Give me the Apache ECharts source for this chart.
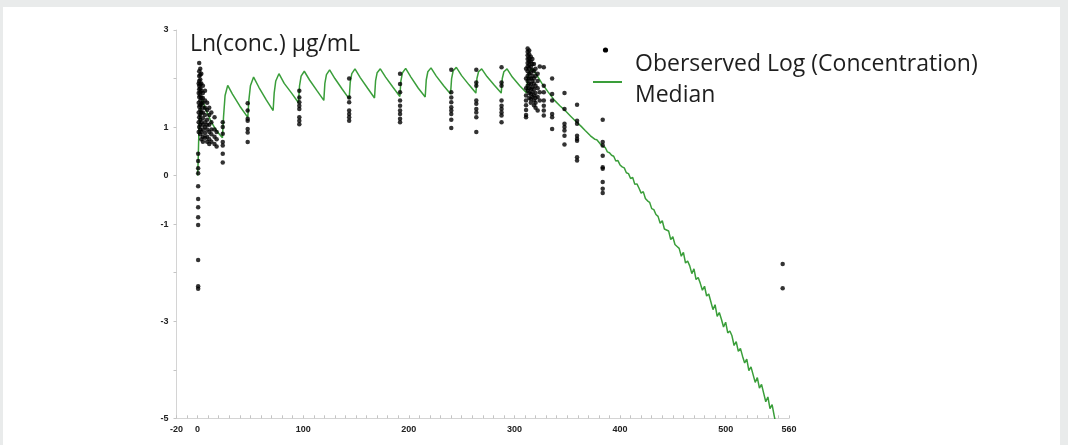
<!DOCTYPE html>
<html>
<head>
<meta charset="utf-8">
<script src="https://cdn.jsdelivr.net/npm/echarts@6/dist/echarts.min.js"></script>
<style>
  html, body { margin: 0; padding: 0; background: #fff; }
  #main { position: absolute; left: 0; top: 0; width: 1068px; height: 445px; }
  #frame {
    position: absolute; left: 0; top: 0; width: 1068px; height: 445px;
    box-sizing: border-box; pointer-events: none;
    border-top: 7px solid #e9ebeb; border-left: 3px solid #e9ebeb; border-right: 8px solid #e9ebeb;
  }
</style>
</head>
<body>
<div id="main"></div>
<div id="frame"></div>
<script>
// observed log concentrations, [time, ln(conc)]
const observed = [
  // first dose, dense sampling
  [0.5, 0.45], [0.5, 0.3], [0.5, 0.15], [0.5, 0.05], [0.5, -0.22], [0.5, -0.48], [0.5, -0.65],
  [0.5, -0.86], [0.5, -1.02], [0.5, -1.74], [0.5, -2.28], [0.5, -2.33],
  [1, 0.9], [1, 1.1], [1, 1.3], [1, 1.5], [1, 1.7], [1, 1.9],
  [1.5, 2.32], [1.5, 2.15], [1.5, 2.05], [1.5, 1.95], [1.5, 1.85], [1.5, 1.78], [1.5, 1.62], [1.5, 1.42], [1.5, 1.2], [1.5, 1.0],
  [2.5, 2.2], [2.5, 2.08], [2.5, 1.98], [2.5, 1.88], [2.5, 1.8], [2.5, 1.72], [2.5, 1.65], [2.5, 1.55],
  [2.5, 1.45], [2.5, 1.35], [2.5, 1.25], [2.5, 1.15], [2.5, 1.05], [2.5, 0.95], [2.5, 0.85],
  [3.5, 2.1], [3.5, 1.9], [3.5, 1.75], [3.5, 1.6], [3.5, 1.48], [3.5, 1.3], [3.5, 1.1], [3.5, 0.9], [3.5, 0.75],
  [5, 1.85], [5, 1.7], [5, 1.6], [5, 1.5], [5, 1.4], [5, 1.3], [5, 1.18], [5, 1.05], [5, 0.95], [5, 0.8], [5, 0.7],
  [7, 1.75], [7, 1.55], [7, 1.4], [7, 1.25], [7, 1.1], [7, 1.0], [7, 0.88], [7, 0.78],
  [9, 1.5], [9, 1.35], [9, 1.15], [9, 1.05], [9, 0.95], [9, 0.8], [9, 0.7],
  [11, 1.4], [11, 1.25], [11, 1.05], [11, 0.9], [11, 0.75], [11, 0.65],
  [13, 1.3], [13, 1.1], [13, 0.95], [13, 0.85], [13, 0.7],
  [16, 1.2], [16, 0.95], [16, 0.8], [16, 0.65],
  [18, 0.9], [18, 0.75], [18, 0.6],
  // troughs
  [23.8, 1.10], [23.8, 1.0], [23.8, 0.86], [23.8, 0.69], [23.8, 0.62], [23.8, 0.45], [23.8, 0.27],
  [47.4, 1.49], [47.4, 1.34], [47.4, 1.17], [47.4, 1.13], [47.4, 0.96], [47.4, 0.89], [47.4, 0.69],
  [96.3, 1.75], [96.3, 1.61], [96.3, 1.51], [96.3, 1.44], [96.3, 1.37], [96.3, 1.2], [96.3, 1.13], [96.3, 1.06],
  [143.5, 2.0], [143.5, 1.61], [143.5, 1.51], [143.5, 1.34], [143.5, 1.27], [143.5, 1.2], [143.5, 1.13],
  [191.7, 2.1], [191.7, 1.89], [191.7, 1.72], [191.7, 1.55], [191.7, 1.44], [191.7, 1.34], [191.7, 1.27], [191.7, 1.17], [191.7, 1.1],
  [240.2, 2.18], [240.2, 1.72], [240.2, 1.61], [240.2, 1.51], [240.2, 1.41], [240.2, 1.34], [240.2, 1.27], [240.2, 1.15], [240.2, 0.98],
  [263.9, 2.18], [263.9, 1.92], [263.9, 1.85], [263.9, 1.55], [263.9, 1.48], [263.9, 1.37], [263.9, 1.3], [263.9, 1.2], [263.9, 0.9],
  [287.8, 2.23], [287.8, 1.92], [287.8, 1.85], [287.8, 1.55], [287.8, 1.44], [287.8, 1.37], [287.8, 1.3], [287.8, 1.24], [287.8, 1.1],
  // last dose, dense sampling
  [311, 2.2], [311, 2.0], [311, 1.8], [311, 1.65], [311, 1.55], [311, 1.45], [311, 1.35], [311, 1.25], [311, 1.2],
  [312.5, 2.62], [312.5, 2.55], [312.5, 2.48], [312.5, 2.4], [312.5, 2.32], [312.5, 2.25], [312.5, 2.15],
  [312.5, 2.05], [312.5, 1.95], [312.5, 1.85], [312.5, 1.75],
  [314, 2.58], [314, 2.5], [314, 2.42], [314, 2.35], [314, 2.28], [314, 2.2], [314, 2.1], [314, 2.0],
  [314, 1.9], [314, 1.8], [314, 1.7], [314, 1.6],
  [315.5, 2.45], [315.5, 2.35], [315.5, 2.25], [315.5, 2.12], [315.5, 2.0], [315.5, 1.88], [315.5, 1.78],
  [315.5, 1.68], [315.5, 1.58], [315.5, 1.5],
  [317, 2.4], [317, 2.3], [317, 2.18], [317, 2.05], [317, 1.95], [317, 1.82], [317, 1.72], [317, 1.62],
  [318.5, 2.3], [318.5, 2.15], [318.5, 2.0], [318.5, 1.9], [318.5, 1.78], [318.5, 1.65], [318.5, 1.55], [318.5, 1.45],
  [320, 2.2], [320, 2.05], [320, 1.85], [320, 1.7], [320, 1.6], [320, 1.5], [320, 1.4],
  [322, 2.1], [322, 1.95], [322, 1.8], [322, 1.62], [322, 1.34],
  [324, 2.25], [324, 1.72], [324, 1.55],
  [327.8, 2.23], [327.8, 1.85], [327.8, 1.72], [327.8, 1.55], [327.8, 1.44], [327.8, 1.34], [327.8, 1.24],
  [335.7, 2.0], [335.7, 1.68], [335.7, 1.55], [335.7, 1.27], [335.7, 1.2], [335.7, 0.96],
  [347.4, 1.7], [347.4, 1.37], [347.4, 1.07], [347.4, 1.0], [347.4, 0.93], [347.4, 0.82], [347.4, 0.64],
  [359.3, 1.46], [359.3, 1.13], [359.3, 1.07], [359.3, 0.82], [359.3, 0.76], [359.3, 0.72], [359.3, 0.38], [359.3, 0.31],
  [383.6, 1.15], [383.6, 0.69], [383.6, 0.62], [383.6, 0.41], [383.6, 0.17], [383.6, 0.14], [383.6, -0.13], [383.6, -0.27], [383.6, -0.36],
  [554, -1.82], [554, -2.32]
];

// median prediction, [time, ln(conc)]
const median = [
  [0, 0.0], [0.5, 0.3], [1.2, 0.9], [2.5, 1.35], [4.5, 1.55], [8, 1.35], [13, 1.1], [18, 0.92], [23.5, 0.78],
  [24.5, 1.2], [26, 1.65], [28.5, 1.86], [33, 1.68], [40, 1.43], [47.5, 1.2],
  [48.5, 1.55], [50, 1.85], [53, 2.03], [58, 1.82], [65, 1.56], [71.5, 1.34],
  [72.5, 1.7], [74, 1.95], [77, 2.10], [82, 1.9], [89, 1.7], [95.5, 1.5],
  [96.5, 1.85], [98, 2.05], [101, 2.15], [106, 1.97], [113, 1.75], [119.5, 1.55],
  [120.5, 1.9], [122, 2.08], [125, 2.18], [130, 2.0], [137, 1.78], [143.5, 1.58],
  [144.5, 1.92], [146, 2.1], [149, 2.2], [154, 2.02], [161, 1.8], [167.5, 1.6],
  [168.5, 1.95], [170, 2.12], [173, 2.2], [178, 2.03], [185, 1.82], [191.5, 1.63],
  [192.5, 1.95], [194, 2.12], [197, 2.21], [202, 2.03], [209, 1.8], [215.5, 1.62],
  [216.5, 1.97], [218, 2.14], [221, 2.22], [226, 2.05], [233, 1.85], [239.5, 1.68],
  [240.5, 2.0], [242, 2.16], [245, 2.23], [250, 2.06], [257, 1.87], [263.5, 1.7],
  [264.5, 2.0], [266, 2.14], [269, 2.2], [274, 2.04], [281, 1.86], [287.5, 1.7],
  [288.5, 2.0], [290, 2.14], [293, 2.2], [298, 2.03], [305, 1.85], [311.5, 1.7],
  [312.5, 2.0], [314, 2.14], [317, 2.2], [321, 2.08], [326, 1.9], [332, 1.72], [338, 1.55],
  [343, 1.44], [348, 1.34], [353, 1.23], [358, 1.12], [363, 1.02], [367, 0.93], [372, 0.82],
  [376, 0.75], [378, 0.74], [381, 0.66],
  [384, 0.60], [386, 0.58], [388, 0.49], [390, 0.47], [392, 0.42], [394, 0.40], [396, 0.30],
  [398, 0.31], [400, 0.22], [402, 0.18], [404, 0.16], [406, 0.06], [408, 0.04], [410, -0.06],
  [412, -0.04], [414, -0.18], [416, -0.17], [418, -0.26], [420, -0.36], [422, -0.33], [424, -0.47],
  [426, -0.52], [428, -0.55], [430, -0.68], [432, -0.70], [434, -0.80], [436, -0.84], [438, -0.98],
  [440, -0.93], [442, -1.10], [444, -1.12], [446, -1.14], [448, -1.32], [450, -1.26], [452, -1.42],
  [454, -1.46], [456, -1.50], [458, -1.66], [460, -1.58], [462, -1.80], [464, -1.76], [466, -1.86],
  [468, -2.02], [470, -1.92], [472, -2.14], [474, -2.10], [476, -2.22], [478, -2.36], [480, -2.28],
  [482, -2.48], [484, -2.44], [486, -2.60], [488, -2.76], [490, -2.66], [492, -2.90], [494, -2.82],
  [496, -2.96], [498, -3.12], [500, -3.02], [502, -3.24], [504, -3.20], [506, -3.30], [508, -3.50],
  [510, -3.42], [512, -3.62], [514, -3.56], [516, -3.72], [518, -3.86], [520, -3.78], [522, -4.02],
  [524, -3.94], [526, -4.10], [528, -4.26], [530, -4.16], [532, -4.38], [534, -4.30], [536, -4.48],
  [538, -4.66], [540, -4.56], [542, -4.80], [544, -4.72], [546, -4.95], [547, -5.05]
];

const xTickLabels = [-20, 0, 100, 200, 300, 400, 500, 560];
const yTickLabels = [3, 1, 0, -1, -3, -5];

const obsName = 'Oberserved Log (Concentration)';
const medName = 'Median';
const green = '#3a9e3a';

const myChart = echarts.init(document.getElementById('main'));
const labelFont = {color: '#1e1e1e', fontFamily: 'Open Sans', fontSize: 23, fontWeight: 'normal'};

// legend keys in the source sit a little above their text, so the keys are drawn separately
const legendCommon = {
  left: 600, padding: 0, itemWidth: 30, itemHeight: 5,
  itemStyle: {opacity: 0}, lineStyle: {opacity: 0},
  textStyle: labelFont
};

myChart.setOption({
  backgroundColor: '#fff',
  animation: false,
  title: {
    text: 'Ln(conc.) µg/mL',
    left: 190, top: 33, padding: 0,
    textStyle: labelFont
  },
  legend: [
    Object.assign({data: [{name: obsName, icon: 'rect'}], top: 53}, legendCommon),
    Object.assign({data: [{name: medName, icon: 'rect'}], top: 84}, legendCommon)
  ],
  graphic: [
    {type: 'circle', shape: {cx: 605.5, cy: 50, r: 2.6}, style: {fill: '#000'}},
    {type: 'line', shape: {x1: 593, y1: 82, x2: 622, y2: 82}, style: {stroke: green, lineWidth: 2}}
  ],
  grid: {left: 176.5, top: 30, right: 279, bottom: 26.7, containLabel: false},
  xAxis: {
    type: 'value', min: -20, max: 560, interval: 10,
    axisLine: {show: true, onZero: false, lineStyle: {color: '#d4d4d4'}},
    axisTick: {show: true, inside: true, length: 3, lineStyle: {color: '#c4c4c4'}},
    splitLine: {show: false},
    axisLabel: {
      margin: 7, color: '#222', fontFamily: 'Liberation Sans', fontSize: 9, fontWeight: 'bold',
      formatter: v => xTickLabels.includes(v) ? String(v) : ''
    }
  },
  yAxis: {
    type: 'value', min: -5, max: 3, interval: 1,
    axisLine: {show: true, onZero: false, lineStyle: {color: '#d4d4d4'}},
    axisTick: {show: true, length: 3, lineStyle: {color: '#c4c4c4'}},
    splitLine: {show: false},
    axisLabel: {
      margin: 8, color: '#222', fontFamily: 'Liberation Sans', fontSize: 9, fontWeight: 'bold',
      formatter: v => yTickLabels.includes(v) ? String(v) : ''
    }
  },
  series: [
    {
      name: medName, type: 'line', data: median,
      symbol: 'none', lineStyle: {color: green, width: 1.5}, itemStyle: {color: green}, z: 2
    },
    {
      name: obsName, type: 'scatter', data: observed,
      symbol: 'circle', symbolSize: 4.5, itemStyle: {color: '#000'}, z: 3
    }
  ]
});
</script>
</body>
</html>
